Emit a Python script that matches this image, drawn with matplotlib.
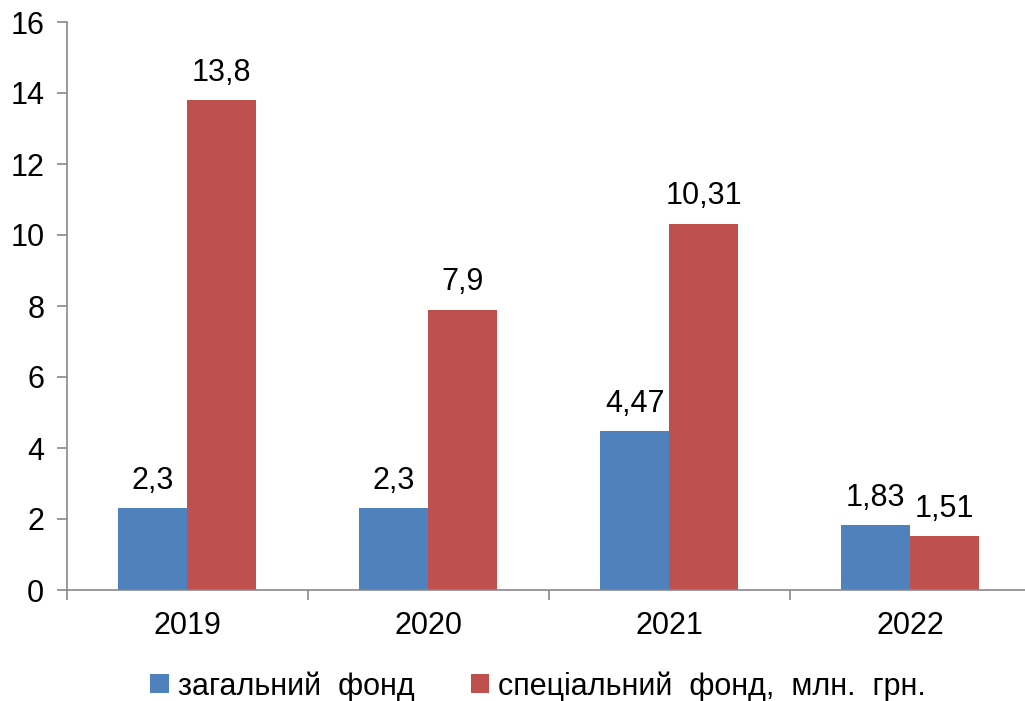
import matplotlib.pyplot as plt
import numpy as np

plt.rcParams['font.family'] = ['Liberation Sans', 'DejaVu Sans']

years = ['2019', '2020', '2021', '2022']
general = [2.3, 2.3, 4.47, 1.83]
special = [13.8, 7.9, 10.31, 1.51]
general_lbl = ['2,3', '2,3', '4,47', '1,83']
special_lbl = ['13,8', '7,9', '10,31', '1,51']

blue = '#4f81bd'
red = '#c0504d'

fig = plt.figure(figsize=(10.25, 7.01), dpi=100)
ax = fig.add_axes([66.5 / 1025, 111 / 701, 964 / 1025, 568 / 701])

x = np.arange(len(years))
w = 0.286
b1 = ax.bar(x - w / 2, general, w, color=blue, label='загальний  фонд')
b2 = ax.bar(x + w / 2, special, w, color=red, label='спеціальний  фонд,  млн.  грн.')

for bars, lbls in ((b1, general_lbl), (b2, special_lbl)):
    for b, t in zip(bars, lbls):
        ax.annotate(t, (b.get_x() + b.get_width() / 2, b.get_height()),
                    xytext=(0, 9), textcoords='offset points',
                    ha='center', va='bottom', fontsize=22)

ax.set_xlim(-0.5, len(years) - 0.5)
ax.set_ylim(0, 16)
ax.set_yticks(range(0, 17, 2))
ax.set_xticks(x)
ax.set_xticklabels(years)
ax.set_xticks(np.arange(-0.5, len(years)), minor=True)
ax.tick_params(axis='x', which='major', length=0, labelsize=22, pad=15)
ax.tick_params(axis='x', which='minor', length=7, color='#898989', width=1.2)
ax.tick_params(axis='y', length=7, color='#898989', width=1.2, labelsize=22, pad=9)

for s in ('top', 'right'):
    ax.spines[s].set_visible(False)
for s in ('left', 'bottom'):
    ax.spines[s].set_color('#898989')
    ax.spines[s].set_linewidth(1.2)

fig.legend(loc='lower center', bbox_to_anchor=(0.525, -0.04), ncol=2,
           frameon=False, fontsize=22, handlelength=0.6, handleheight=0.6,
           handletextpad=0.3, columnspacing=1.85)

fig.savefig('out.png', dpi=100)
